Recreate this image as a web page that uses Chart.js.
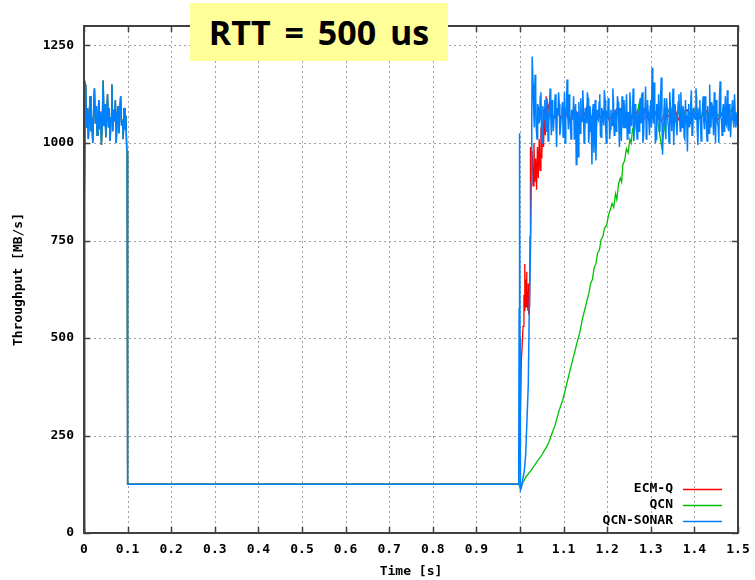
<!DOCTYPE html>
<html><head><meta charset="utf-8">
<script src="https://cdn.jsdelivr.net/npm/chart.js@4"></script>
<style>
html,body{margin:0;padding:0;background:#fff;}
#wrap{position:relative;width:755px;height:580px;}
#title{position:absolute;left:190px;top:3px;width:258px;height:58px;background:#ffff99;font:bold 34px "Open Sans";display:flex;align-items:center;justify-content:center;word-spacing:5px;color:#000;}
</style></head><body>
<div id="wrap"><canvas id="c" width="755" height="580"></canvas><div id="title">RTT = 500 us</div></div>
<script>
// ---- axes ----
const xMin = 0, xMax = 1.5;
const xTickValues = [0, 0.1, 0.2, 0.3, 0.4, 0.5, 0.6, 0.7, 0.8, 0.9, 1, 1.1, 1.2, 1.3, 1.4, 1.5];
const yMin = 0, yMax = 1300;
const yTickValues = [0, 250, 500, 750, 1000, 1250];
const seriesNames = ['ECM-Q', 'QCN', 'QCN-SONAR'];
const seriesColors = ['#ff0000', '#00c000', '#0080ff'];

// ---- shared start-up (all three flows identical before t = 1 s) ----
const startT = [0, 0.0005, 0.001, 0.0015, 0.002, 0.003];
const startV = [0, 170, 670, 175, 850, 1150];
const burstStart = 0.004, burstStep = 0.002;
const burstV = [1145, 1040, 1090, 1010, 1075, 1120, 1030, 1065, 1000, 1085,
                1140, 1050, 1095, 1020, 1070, 1110, 1035, 1080, 995, 1060,
                1160, 1045, 1100, 1015, 1075, 1125, 1040, 1090, 1005, 1065,
                1150, 1030, 1085, 1055, 1110, 1000, 1070, 1095, 1025, 1080,
                1120, 1045, 1060, 1010, 1090, 1035, 1070, 985];
const dropT = [0.099, 0.1, 0.1, 0.997];
const dropV = [980, 975, 125, 125];

// ---- QCN-SONAR after t = 1 s ----
const sonarRiseT = [0.998, 0.999, 1.000, 1.001, 1.003, 1.006, 1.010, 1.013, 1.016, 1.019, 1.021, 1.024, 1.026, 1.027, 1.028];
const sonarRiseV = [575, 1025, 500, 110, 115, 135, 160, 200, 290, 380, 550, 720, 900, 1070, 1222];
const sonarNoiseStart = 1.030, sonarNoiseStep = 0.003;
const sonarNoiseV = [1150, 1040, 1120, 1010, 1090, 1060, 1130, 1000, 1075, 1110,
                     1030, 1095, 1050, 1140, 1020, 1080, 1065, 1125, 990, 1070,
                     1100, 1040, 1085, 1015, 1130, 1055, 1163, 1035, 1090, 1010,
                     1075, 1120, 1045, 945, 1080, 1105, 1025, 1060, 1135, 1000,
                     1090, 1050, 1115, 1030, 1070, 945, 1100, 1040, 955, 1085,
                     1060, 1125, 1015, 1080, 1045, 1110, 1000, 1070, 1095, 1035,
                     1065, 1140, 1020, 1085, 1050, 1105, 990, 1075, 1120, 1040,
                     1060, 1095, 1010, 1080, 1130, 1045, 1070, 1005, 1100, 1055,
                     1085, 1030, 1115, 1065, 1000, 1090, 1145, 1040, 1075, 1020,
                     1110, 1193, 1050, 1085, 1010, 1070, 1125, 1035, 1168, 970,
                     1080, 1045, 1115, 1060, 1000, 1095, 1030, 1140, 1055, 1075,
                     1020, 1105, 1065, 1130, 1040, 1085, 1010, 1070, 978, 1100,
                     1050, 1135, 1025, 1080, 1060, 1115, 995, 1090, 1045, 1070,
                     1120, 1035, 1085, 1005, 1065, 1150, 1040, 1095, 1020, 1075,
                     1110, 1050, 1000, 1158, 1060, 1085, 1030, 1120, 1045, 1070,
                     1100, 1015, 1090, 1055, 1125, 1040, 1080];
// interleaved half-step samples
const sonarNoiseStartB = 1.0315;
const sonarNoiseVB = [1080, 1175, 1035, 1100, 1050, 1120, 1015, 1095, 1060, 1040,
                      1115, 1005, 1085, 1070, 1110, 1030, 1100, 1045, 1090, 1130,
                      1020, 1065, 1105, 1050, 1000, 1095, 1075, 1125, 1040, 1085,
                      1060, 1010, 1100, 1070, 965, 1045, 1115, 1055, 1090, 1025,
                      1070, 1130, 1000, 1095, 1050, 1080, 975, 1110, 1035, 1065,
                      1105, 1020, 1090, 1060, 1135, 1040, 1075, 1115, 1010, 1085,
                      1045, 1100, 1065, 1030, 1120, 1055, 1090, 1005, 1080, 1110,
                      1040, 1125, 1060, 1025, 1095, 1070, 1140, 1035, 1085, 1010,
                      1065, 1105, 1050, 1130, 1020, 1075, 1010, 1110, 1055, 1095,
                      1040, 1085, 1155, 1000, 1100, 1060, 1030, 1120, 1080, 1050,
                      1115, 1010, 1090, 1040, 1130, 1065, 1085, 995, 1100, 1045,
                      1075, 1125, 1030, 1060, 1095, 1015, 1110, 1050, 1080, 1040,
                      1100, 1020, 1090, 1065, 1140, 1035, 1075, 1110, 1005, 1085,
                      1055, 1120, 1040, 1095, 1025, 1070, 1105, 1060, 1130, 1000,
                      1080, 1045, 1115, 1065, 1020, 1100, 1075, 1050, 1135, 1030,
                      1090, 1060, 1110, 1040, 1075, 1055];

// ---- ECM-Q after t = 1 s ----
const ecmRiseT = [0.999, 1.000, 1.001, 1.003, 1.005, 1.007, 1.009, 1.010, 1.011, 1.012, 1.013, 1.014, 1.015, 1.016, 1.017, 1.018, 1.019, 1.020, 1.021, 1.022, 1.023, 1.024,
                  1.026, 1.028, 1.030, 1.032, 1.034, 1.036, 1.038, 1.040, 1.042, 1.044, 1.046, 1.048, 1.050, 1.052, 1.054, 1.056, 1.058, 1.060, 1.062, 1.064];
const ecmRiseV = [300, 420, 310, 440, 480, 530, 610, 570, 690, 600, 650, 580, 670, 590, 620, 570, 640, 560, 600, 580, 760, 990,
                  920, 980, 890, 1000, 900, 960, 880, 990, 910, 1010, 930, 1040, 960, 1060, 990, 1090, 1020, 1120, 1050, 1100];
const ecmNoiseStart = 1.074, ecmNoiseStep = 0.01;
const ecmNoiseV = [1060, 1085, 1065, 1080, 1055, 1090, 1070, 1060, 1095, 1065,
                   1080, 1065, 1085, 1060, 1075, 1090, 1065, 1080, 1060, 1070,
                   1095, 1060, 1080, 1065, 1085, 1055, 1080, 1065, 1090, 1060,
                   1075, 1085, 1065, 1080, 1060, 1090, 1065, 1085, 1060, 1075,
                   1090, 1065, 1075];

// ---- QCN after t = 1 s ----
const qcnRampT = [1.000, 1.003, 1.006, 1.010, 1.014, 1.018, 1.022, 1.026, 1.030, 1.035, 1.040, 1.045, 1.050, 1.055, 1.061, 1.066, 1.070, 1.075, 1.080, 1.085,
                  1.090, 1.094, 1.098, 1.104, 1.110, 1.115, 1.120, 1.125, 1.130, 1.137, 1.143, 1.150, 1.154, 1.158, 1.162, 1.166, 1.170, 1.174, 1.178, 1.182,
                  1.186, 1.190, 1.194, 1.199, 1.203, 1.207, 1.211, 1.215, 1.219, 1.222, 1.226, 1.230, 1.233, 1.236, 1.240, 1.244, 1.248, 1.252, 1.255, 1.258,
                  1.262, 1.266, 1.269, 1.272, 1.276, 1.279, 1.282];
const qcnRampV = [116, 121, 128, 136, 145, 150, 156, 162, 168, 176, 185, 192, 200, 210, 221, 232, 245, 260, 275, 295,
                  315, 328, 341, 368, 395, 418, 440, 462, 485, 513, 548, 580, 598, 615, 640, 650, 680, 690, 718, 725,
                  752, 760, 782, 790, 815, 828, 845, 835, 870, 855, 895, 910, 900, 945, 955, 985, 975, 1010, 1000, 1035,
                  1025, 1065, 1055, 1095, 1080, 1125, 1090];
const qcnNoiseStart = 1.285, qcnNoiseStep = 0.01;
const qcnNoiseV = [1085, 1065, 1095, 1060, 990, 1070, 1090, 1060, 1080, 1085,
                   1055, 1075, 1090, 1065, 1080, 1060, 1085, 1070, 1080, 1060,
                   1085, 1075];

// ---- helpers ----
function pairs(ts, vs) { return ts.map((t, i) => ({x: t, y: vs[i]})); }
function seg(start, step, vs) { return vs.map((v, i) => ({x: +(start + step * i).toFixed(4), y: v})); }
function interleave(a, b) { const out = []; for (let i = 0; i < Math.max(a.length, b.length); i++) { if (a[i]) out.push(a[i]); if (b[i]) out.push(b[i]); } return out; }
const shared = [].concat(pairs(startT, startV), seg(burstStart, burstStep, burstV), pairs(dropT, dropV));

const dataEcm = shared.concat(pairs(ecmRiseT, ecmRiseV), seg(ecmNoiseStart, ecmNoiseStep, ecmNoiseV));
const dataQcn = shared.concat(pairs(qcnRampT, qcnRampV), seg(qcnNoiseStart, qcnNoiseStep, qcnNoiseV));
const dataSonar = shared.concat(pairs(sonarRiseT, sonarRiseV),
  interleave(seg(sonarNoiseStart, sonarNoiseStep, sonarNoiseV), seg(sonarNoiseStartB, sonarNoiseStep, sonarNoiseVB)));

const FONT = 'bold 13px "DejaVu Sans Mono"';
const tickFont = {family: 'DejaVu Sans Mono', size: 13, weight: 'bold'};

const frame = {
  id: 'frame',
  beforeDatasetsDraw(chart) {
    const {ctx, chartArea: a, scales: {x, y}} = chart;
    ctx.save();
    ctx.strokeStyle = '#a0a0a0';
    ctx.lineWidth = 1;
    ctx.setLineDash([2, 3]);
    x.ticks.forEach(t => {
      if (t.value <= xMin + 1e-9 || t.value >= xMax - 1e-9) return;
      const px = Math.round(x.getPixelForValue(t.value)) + 0.5;
      ctx.beginPath(); ctx.moveTo(px, a.top); ctx.lineTo(px, a.bottom); ctx.stroke();
    });
    y.ticks.forEach(t => {
      if (t.value <= yMin || t.value >= yMax) return;
      const py = Math.round(y.getPixelForValue(t.value)) + 0.5;
      ctx.beginPath(); ctx.moveTo(a.left, py); ctx.lineTo(a.right, py); ctx.stroke();
    });
    ctx.restore();
  },
  afterDatasetsDraw(chart) {
    const {ctx, chartArea: a, scales: {x, y}} = chart;
    ctx.save();
    ctx.strokeStyle = '#404040';
    ctx.lineWidth = 2;
    ctx.strokeRect(a.left, a.top, a.right - a.left, a.bottom - a.top);
    ctx.lineWidth = 1.5;
    const L = 6;
    x.ticks.forEach(t => {
      const px = Math.round(x.getPixelForValue(t.value)) + 0.5;
      ctx.beginPath(); ctx.moveTo(px, a.bottom); ctx.lineTo(px, a.bottom - L);
      ctx.moveTo(px, a.top); ctx.lineTo(px, a.top + L); ctx.stroke();
    });
    y.ticks.forEach(t => {
      const py = Math.round(y.getPixelForValue(t.value)) + 0.5;
      ctx.beginPath(); ctx.moveTo(a.left, py); ctx.lineTo(a.left + L, py);
      ctx.moveTo(a.right, py); ctx.lineTo(a.right - L, py); ctx.stroke();
    });
    // legend
    ctx.font = FONT;
    ctx.textAlign = 'right';
    ctx.textBaseline = 'middle';
    chart.data.datasets.forEach((ds, i) => {
      const yy = a.bottom - 44 + i * 16;
      ctx.fillStyle = '#000';
      ctx.fillText(ds.label, a.right - 65, yy);
      ctx.strokeStyle = ds.borderColor;
      ctx.lineWidth = 1.5;
      ctx.beginPath(); ctx.moveTo(a.right - 55, yy + 0.5); ctx.lineTo(a.right - 16, yy + 0.5); ctx.stroke();
    });
    ctx.restore();
  }
};

new Chart(document.getElementById('c'), {
  type: 'line',
  data: {
    datasets: [
      {label: seriesNames[0], data: dataEcm, borderColor: seriesColors[0], borderWidth: 1.3, order: 2},
      {label: seriesNames[1], data: dataQcn, borderColor: seriesColors[1], borderWidth: 1.3, order: 1},
      {label: seriesNames[2], data: dataSonar, borderColor: seriesColors[2], borderWidth: 1.5, order: 0}
    ]
  },
  options: {
    responsive: false,
    animation: false,
    devicePixelRatio: 1,
    elements: {
      line: {tension: 0, fill: false},
      point: {radius: 0, hoverRadius: 0}
    },
    layout: {padding: {top: 26, right: 17, left: 0, bottom: 0}},
    plugins: {legend: {display: false}, tooltip: {enabled: false}, title: {display: false}},
    scales: {
      x: {
        type: 'linear', min: xMin, max: xMax,
        grid: {display: false, drawTicks: false},
        border: {display: false},
        afterBuildTicks(s) { s.ticks = xTickValues.map(v => ({value: v})); },
        ticks: {color: '#000', font: tickFont, padding: 9, maxRotation: 0, autoSkip: false,
                callback: v => String(Number(v.toFixed(1)))},
        title: {display: true, text: 'Time [s]', color: '#000', font: tickFont, padding: {top: 0, bottom: 1}},
        afterFit(s) { s.height = 47; s.paddingLeft = 0; s.paddingRight = 0; }
      },
      y: {
        type: 'linear', min: yMin, max: yMax,
        grid: {display: false, drawTicks: false},
        border: {display: false},
        afterBuildTicks(s) { s.ticks = yTickValues.map(v => ({value: v})); },
        ticks: {color: '#000', font: tickFont, padding: 10, callback: v => String(v)},
        title: {display: true, text: 'Throughput [MB/s]', color: '#000', font: tickFont, padding: {top: 11, bottom: 0}},
        afterFit(s) { s.width = 84; s.paddingTop = 0; s.paddingBottom = 0; }
      }
    }
  },
  plugins: [frame]
});
</script>
</body></html>
